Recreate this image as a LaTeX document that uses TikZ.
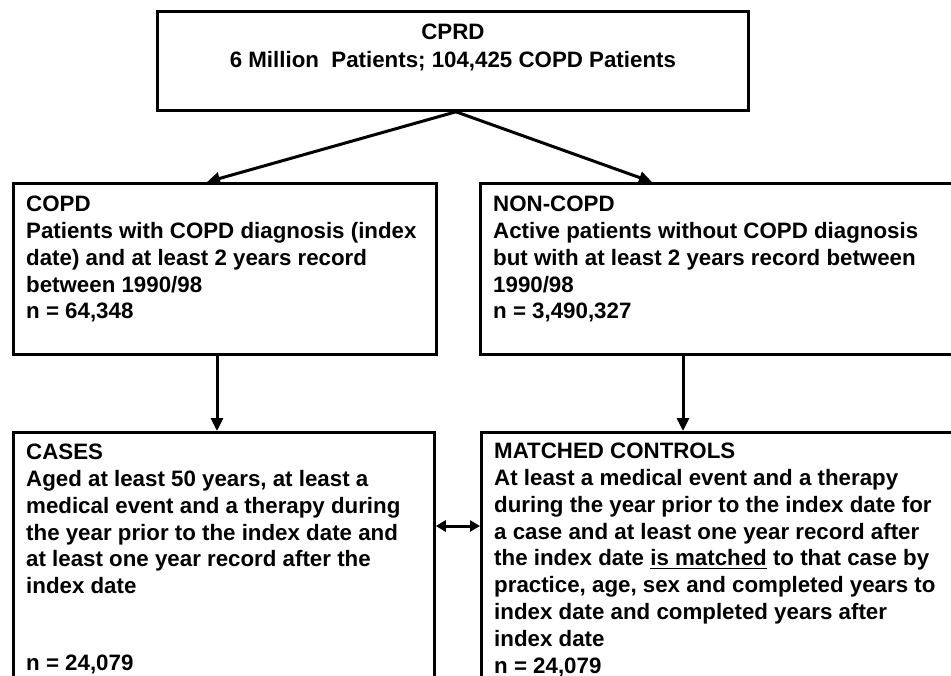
\documentclass[tikz,border=0pt]{standalone}
\usepackage{fontspec}
\setmainfont{Liberation Sans}
\usetikzlibrary{arrows.meta, positioning}
\tikzstyle{box} = [rectangle, draw, line width=2.8pt, anchor=north west, inner sep=0pt]
\tikzstyle{txt} = [anchor=north west, align=left, inner sep=0pt]
\tikzstyle{arr} = [line width=3pt, -{Triangle[length=13pt,width=12pt]}]
\tikzstyle{both} = [line width=3pt, {Triangle[length=10pt,width=11pt]}-{Triangle[length=10pt,width=11pt]}]
\newcommand{\ulined}[1]{\leavevmode\setbox0\hbox{#1}\rlap{\rule[-3.5pt]{\wd0}{1.6pt}}\box0\relax}

\begin{document}
\begin{tikzpicture}[x=1pt, y=-1pt, font=\bfseries\fontsize{22.3}{26.8}\selectfont]

	\useasboundingbox (0,0) rectangle (951,676);
	\clip (0,0) rectangle (951,676);

	% Boxes
	\node (cprd) [box, minimum width=591pt, minimum height=99pt] at (156,10) {};
	\node (copd) [box, minimum width=423pt, minimum height=171pt] at (12,182) {};
	\node (noncopd) [box, minimum width=490pt, minimum height=171pt] at (479,182) {};
	\node (cases) [box, minimum width=421pt, minimum height=270pt] at (12,431) {};
	\node (controls) [box, minimum width=490pt, minimum height=270pt] at (480,431) {};

	% Texts
	\node (cprd_txt) [anchor=north, align=center, inner sep=0pt, below=14pt of cprd.north] {CPRD\\[1pt]6 Million\ \ Patients; 104,425 COPD Patients};
	\node (copd_txt) [txt, below right=14pt and 14pt of copd.north west] {COPD\\Patients with COPD diagnosis (index\\date) and at least 2 years record\\between 1990/98\\n = 64,348};
	\node (noncopd_txt) [txt, below right=14pt and 14pt of noncopd.north west] {NON-COPD\\Active patients without COPD diagnosis\\but with at least 2 years record between\\1990/98\\n = 3,490,327};
	\node (cases_txt) [txt, below right=13pt and 14pt of cases.north west] {CASES\\Aged at least 50 years, at least a\\medical event and a therapy during\\the year prior to the index date and\\at least one year record after the\\index date\\[50pt]n = 24,079};
	\node (controls_txt) [txt, below right=12pt and 14pt of controls.north west] {MATCHED CONTROLS\\At least a medical event and a therapy\\during the year prior to the index date for\\a case and at least one year record after\\the index date \ulined{is matched} to that case by\\practice, age, sex and completed years to\\index date and completed years after\\index date\\n = 24,079};

	% Arrows
	\draw[arr] ([xshift=3pt]cprd.south) -- ([xshift=195pt]copd.north west);
	\draw[arr] ([xshift=3pt]cprd.south) -- ([xshift=173pt]noncopd.north west);
	\draw[arr] ([xshift=205pt]copd.south west) -- ([xshift=205pt]cases.north west);
	\draw[arr] ([xshift=204pt]noncopd.south west) -- ([xshift=203pt]controls.north west);
	\draw[both] ([yshift=-95pt]cases.north east) -- ([yshift=-95pt]controls.north west);

\end{tikzpicture}
\end{document}
